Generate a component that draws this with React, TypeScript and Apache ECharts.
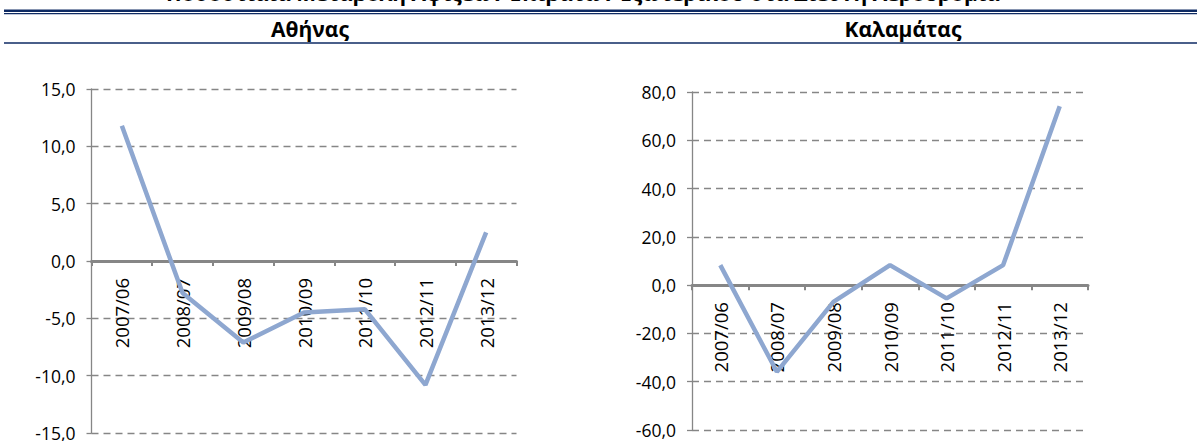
import React, { useEffect, useRef } from "react";
import * as echarts from "echarts";

const categories = ["2007/06", "2008/07", "2009/08", "2010/09", "2011/10", "2012/11", "2013/12"];
const athensValues = [11.8, -2.8, -7.1, -4.5, -4.2, -10.8, 2.5];
const kalamataValues = [8.3, -35.9, -6.9, 8.3, -5.5, 8.3, 74.1];
const mainTitle = "Ποσοστιαία Μεταβολή Αφίξεων Επιβατών Εξωτερικού στα Διεθνή Αεροδρόμια";
const leftTitle = "Αθήνας";
const rightTitle = "Καλαμάτας";

const FONT = "'Open Sans', 'Noto Sans', sans-serif";
const LINE_COLOR = "#8EA7D0";
const AXIS_GRAY = "#868686";
const NAVY = "#0E2A63";

const fmt = (v: number) => v.toFixed(1).replace(".", ",");

type GridDef = { left: number; top: number; width: number; height: number };

function makeAxes(idx: number, grid: GridDef, min: number, max: number, interval: number) {
  const zeroOffset = -(grid.height * (0 - min)) / (max - min);
  const mainX = {
    type: "category",
    gridIndex: idx,
    data: categories,
    boundaryGap: true,
    axisLine: { show: true, onZero: true, lineStyle: { color: AXIS_GRAY, width: 3 } },
    axisTick: { show: true, length: 5, lineStyle: { color: AXIS_GRAY, width: 2 } },
    axisLabel: { show: false },
    splitLine: { show: false },
  };
  const labelX = {
    type: "category",
    gridIndex: idx,
    data: categories,
    boundaryGap: true,
    position: "bottom",
    offset: zeroOffset,
    axisLine: { show: false, onZero: false },
    axisTick: { show: false },
    axisLabel: {
      rotate: 90,
      margin: 17,
      color: "#000",
      fontSize: 18.5,
      fontFamily: FONT,
      interval: 0,
    },
    splitLine: { show: false },
  };
  const yAxis = {
    type: "value",
    gridIndex: idx,
    min,
    max,
    interval,
    axisLine: { show: true, lineStyle: { color: AXIS_GRAY, width: 1.3 } },
    axisTick: { show: true, length: 5, lineStyle: { color: AXIS_GRAY, width: 1.3 } },
    axisLabel: {
      color: "#000",
      fontSize: 17.5,
      fontFamily: FONT,
      margin: 16,
      formatter: (v: number) => fmt(v),
    },
    splitLine: {
      show: true,
      lineStyle: { color: AXIS_GRAY, width: 1.3, type: [7, 5] },
    },
  };
  return { mainX, labelX, yAxis };
}

export default function App() {
  const ref = useRef<HTMLDivElement>(null);
  useEffect(() => {
    if (!ref.current) return;
    const chart = echarts.init(ref.current, null, { renderer: "svg" });
    const g0: GridDef = { left: 91.5, top: 89, width: 425, height: 344 };
    const g1: GridDef = { left: 692, top: 92, width: 396, height: 338 };
    const a = makeAxes(0, g0, -15, 15, 5);
    const b = makeAxes(1, g1, -60, 80, 20);
    const headerStyle = {
      fontSize: 21,
      fontWeight: "bold",
      fontFamily: FONT,
      fill: "#000",
      align: "center",
      verticalAlign: "middle",
    };
    chart.setOption({
      animation: false,
      backgroundColor: "#fff",
      grid: [
        { ...g0, outerBoundsMode: "none", containLabel: false },
        { ...g1, outerBoundsMode: "none", containLabel: false },
      ],
      xAxis: [a.mainX, a.labelX, b.mainX, b.labelX],
      yAxis: [a.yAxis, b.yAxis],
      series: [
        {
          type: "line",
          xAxisIndex: 0,
          yAxisIndex: 0,
          data: athensValues,
          symbol: "none",
          lineStyle: { color: LINE_COLOR, width: 4.5 },
          z: 5,
        },
        {
          type: "line",
          xAxisIndex: 2,
          yAxisIndex: 1,
          data: kalamataValues,
          symbol: "none",
          lineStyle: { color: LINE_COLOR, width: 4.5 },
          z: 5,
        },
      ],
      graphic: [
        {
          type: "text",
          x: 583,
          y: -7,
          style: { ...headerStyle, text: mainTitle },
        },
        { type: "rect", shape: { x: 4, y: 9.5, width: 1193, height: 2.5 }, style: { fill: NAVY } },
        { type: "rect", shape: { x: 4, y: 13, width: 1193, height: 1.2 }, style: { fill: NAVY } },
        {
          type: "text",
          x: 310,
          y: 29,
          style: { ...headerStyle, text: leftTitle },
        },
        {
          type: "text",
          x: 903,
          y: 29,
          style: { ...headerStyle, text: rightTitle },
        },
        { type: "rect", shape: { x: 4, y: 42.3, width: 1193, height: 1.5 }, style: { fill: NAVY } },
      ],
    });
    return () => chart.dispose();
  }, []);
  return (
    <div
      ref={ref}
      style={{ position: "absolute", left: 0, top: 0, width: 1197, height: 441 }}
    />
  );
}
